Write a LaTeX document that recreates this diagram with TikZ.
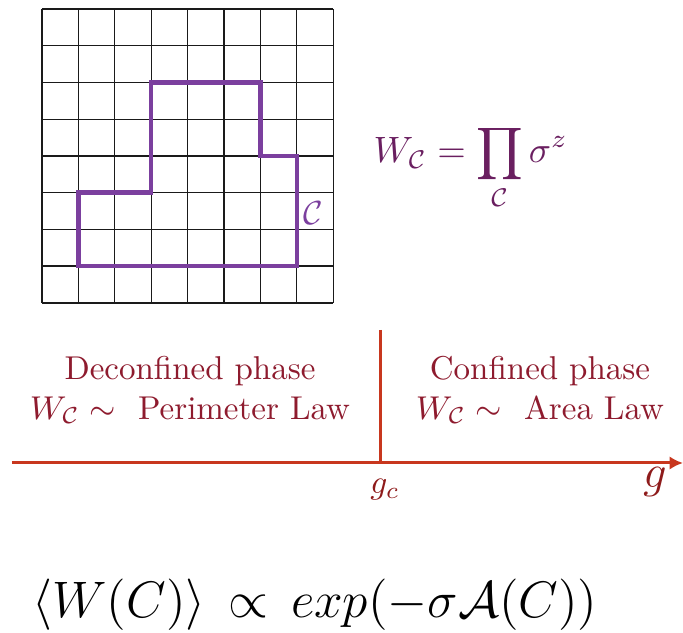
\RequirePackage{fix-cm}
\documentclass[tikz,border=0pt]{standalone}
\usepackage{amsmath}
\usetikzlibrary{arrows.meta}
\definecolor{gridc}{HTML}{1A1A1A}
\definecolor{loopc}{HTML}{7B3F9E}
\definecolor{formc}{HTML}{6A1F60}
\definecolor{phasec}{HTML}{8E1B2E}
\definecolor{axisc}{HTML}{C8371E}
\definecolor{labc}{HTML}{8E1B1B}
\begin{document}
\begin{tikzpicture}[x=0.3pt,y=-0.3pt,
  gridline/.style={draw=gridc,line width=0.4pt},
  loopline/.style={draw=loopc,line width=1.35pt,line join=miter},
  phasetext/.style={text=phasec,align=center,font=\fontsize{9.9}{12}\selectfont,inner sep=0pt},
  axisline/.style={draw=axisc,line width=0.9pt}]
\useasboundingbox (0,0) rectangle (683,633);
\begin{scope}[shift={(42,9)},x=10.92pt,y=-11.02pt]
  \foreach \i in {0,...,8} {
    \draw[gridline] (\i,0) -- (\i,8);
    \draw[gridline] (0,\i) -- (8,\i);
  }
  \draw[loopline] (1,5) -- (3,5) -- (3,2) -- (6,2) -- (6,4) -- (7,4) -- (7,7) -- (1,7) -- cycle;
\end{scope}
\node[text=loopc,font=\fontsize{10}{12}\selectfont,inner sep=0pt] (clab) at (313,213) {$\mathcal{C}$};
\node[text=formc,anchor=base west,font=\fontsize{11}{13}\selectfont,inner sep=0pt] (wdef) at (373,163)
  {$W_{\mathcal{C}} = \displaystyle\prod_{\mathcal{C}} \sigma^{z}$};
\node[phasetext] (deconf) at (190,390) {Deconfined phase\\$W_{\mathcal{C}}\sim$\ \ Perimeter Law};
\node[phasetext] (conf) at (540,390) {Confined phase\\$W_{\mathcal{C}}\sim$\ \ Area Law};
\coordinate (ax0) at (12,463);
\coordinate (ax1) at (683,463);
\coordinate (gc) at (381,463);
\coordinate (vtop) at (381,330);
\draw[axisline,-{Latex[length=4pt,width=4pt]}] (ax0) -- (ax1);
\draw[axisline] (vtop) -- (gc);
\node[text=labc,font=\fontsize{10}{12}\selectfont,inner sep=0pt] (gclab) at (385,490) {$g_c$};
\node[text=labc,font=\fontsize{14}{16}\selectfont,inner sep=0pt] (glab) at (655,482) {$g$};
\node[font=\fontsize{15.4}{18}\selectfont,inner sep=0pt] (wilson) at (315,605)
  {$\langle W(C)\rangle\,\propto\, exp(-\sigma\mathcal{A}(C))$};
\end{tikzpicture}
\end{document}
